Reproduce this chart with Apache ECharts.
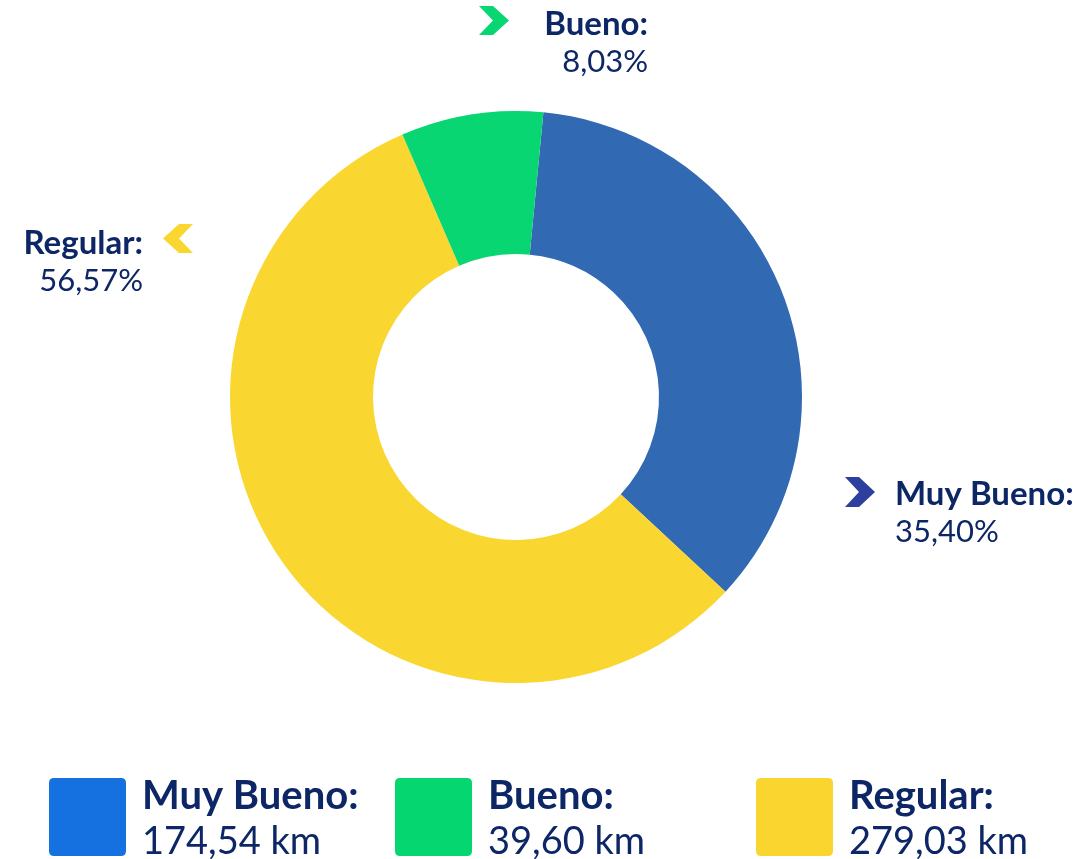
<!DOCTYPE html>
<html>
<head>
<meta charset="utf-8">
<script src="https://cdn.jsdelivr.net/npm/echarts@6/dist/echarts.min.js"></script>
<style>
  html, body { margin: 0; padding: 0; background: #fff; }
  #chart { width: 1081px; height: 859px; }
</style>
</head>
<body>
<div id="chart"></div>
<script>
// data
const categories = ['Muy Bueno', 'Regular', 'Bueno'];
const kmValues = [174.54, 279.03, 39.60];
const kmLabels = ['174,54 km', '279,03 km', '39,60 km'];
const pctLabels = ['35,40%', '56,57%', '8,03%'];

const legendOrder = ['Muy Bueno', 'Bueno', 'Regular'];

const sliceColors = ['#3169B2', '#FAD630', '#08D672'];
const legendColors = { 'Muy Bueno': '#1570E0', 'Bueno': '#05D66F', 'Regular': '#FAD52F' };
const chevronColors = ['#2E3F9E', '#FAD630', '#08D672'];

const NAVY = '#0D2665';
const FONT = 'Lato, sans-serif';

// where each outside label sits
const labelPos = [
  { x: 895, y: 475, align: 'left' },
  { x: 143, y: 224, align: 'right' },
  { x: 648, y: 5, align: 'right' }
];
// chevron boxes: left, top, size, direction
const chevronPos = [
  { x: 845, y: 477, w: 30, h: 30, dir: 1 },
  { x: 163, y: 224, w: 30, h: 29, dir: -1 },
  { x: 479, y: 6, w: 30, h: 29, dir: 1 }
];
const legendLeft = [49, 395, 756];

const chart = echarts.init(document.getElementById('chart'));

function chevron(c, color) {
  const t = 14;
  let pts;
  if (c.dir > 0) {
    pts = [[0, 0], [t, 0], [c.w, c.h / 2], [t, c.h], [0, c.h], [t, c.h / 2]];
  } else {
    pts = [[c.w, 0], [c.w - t, 0], [0, c.h / 2], [c.w - t, c.h], [c.w, c.h], [c.w - t, c.h / 2]];
  }
  return {
    type: 'polygon',
    x: c.x,
    y: c.y,
    silent: true,
    shape: { points: pts },
    style: { fill: color }
  };
}

const legends = legendOrder.map((name, k) => ({
  data: [{ name: name, itemStyle: { color: legendColors[name] } }],
  left: legendLeft[k],
  top: 776,
  padding: 0,
  orient: 'horizontal',
  selectedMode: false,
  itemWidth: 77,
  itemHeight: 78,
  icon: 'path://M5,0H72Q77,0 77,5V73Q77,78 72,78H5Q0,78 0,73V5Q0,0 5,0Z',
  formatter: (n) => '{t|' + n + ':}\n{v|' + kmLabels[categories.indexOf(n)] + '}',
  textStyle: {
    padding: [6, 0, 0, 11],
    rich: {
      t: { fontFamily: FONT, fontWeight: 'bold', fontSize: 40, color: NAVY, lineHeight: 44 },
      v: { fontFamily: FONT, fontSize: 38, color: NAVY, lineHeight: 48 }
    }
  }
}));

chart.setOption({
  animation: false,
  legend: legends,
  graphic: chevronPos.map((c, i) => chevron(c, chevronColors[i])),
  series: [{
    type: 'pie',
    center: [516, 397],
    radius: [143, 286],
    startAngle: 84.5,
    clockwise: true,
    silent: true,
    data: categories.map((c, i) => ({ name: c, value: kmValues[i], itemStyle: { color: sliceColors[i] } })),
    label: {
      show: true,
      position: 'outside',
      formatter: (p) => '{name|' + p.name + ':}\n{pct|' + pctLabels[p.dataIndex] + '}',
      rich: {
        name: { fontFamily: FONT, fontWeight: 'bold', fontSize: 33, color: NAVY, lineHeight: 38 },
        pct: { fontFamily: FONT, fontSize: 31, color: NAVY, lineHeight: 38 }
      }
    },
    labelLine: { show: false },
    labelLayout: (params) => {
      const p = labelPos[params.dataIndex];
      return { x: p.x, y: p.y, align: p.align, verticalAlign: 'top' };
    }
  }]
});
</script>
</body>
</html>
